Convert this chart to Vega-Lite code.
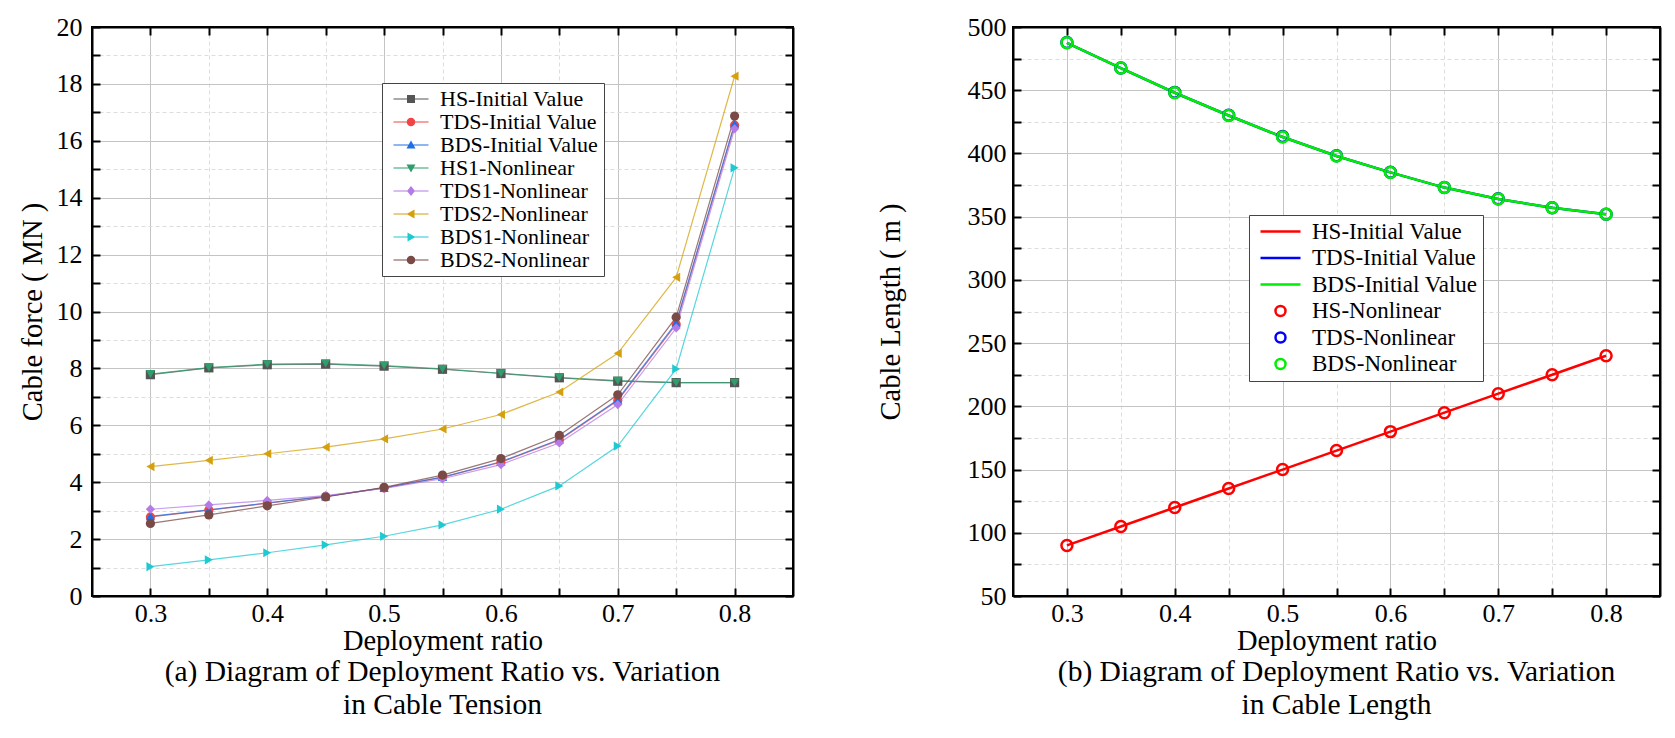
{
  "$schema": "https://vega.github.io/schema/vega-lite/v6.json",
  "background": "white",
  "padding": {"left": 17, "top": 13, "right": 5, "bottom": 5},
  "spacing": 80,
  "resolve": {"scale": {"color": "independent", "shape": "independent", "stroke": "independent", "fill": "independent"}},
  "config": {
    "font": "Liberation Serif",
    "view": {"stroke": "black", "strokeWidth": 2},
    "axis": {
      "domainColor": "black",
      "domainWidth": 2,
      "tickColor": "black",
      "tickWidth": 2,
      "tickSize": -8,
      "labelFont": "Liberation Serif",
      "labelFontSize": 26,
      "labelColor": "black",
      "labelOverlap": false,
      "labelFlush": false,
      "titleFont": "Liberation Serif",
      "titleFontSize": 28.5,
      "titleFontWeight": "normal",
      "titleColor": "black"
    },
    "legend": {
      "labelFont": "Liberation Serif",
      "labelColor": "black",
      "labelLimit": 400,
      "fillColor": "white",
      "strokeColor": "#444444",
      "orient": "none",
      "symbolSize": 100,
      "symbolOpacity": 1
    },
    "title": {"font": "Liberation Serif", "fontSize": 29.5, "fontWeight": "normal", "color": "black"}
  },
  "datasets": {
    "tension": [
      {"r": 0.3, "s": "HS-Initial Value", "v": 7.78}, {"r": 0.35, "s": "HS-Initial Value", "v": 8.02}, {"r": 0.4, "s": "HS-Initial Value", "v": 8.13}, {"r": 0.45, "s": "HS-Initial Value", "v": 8.15}, {"r": 0.5, "s": "HS-Initial Value", "v": 8.08}, {"r": 0.55, "s": "HS-Initial Value", "v": 7.97}, {"r": 0.6, "s": "HS-Initial Value", "v": 7.82}, {"r": 0.65, "s": "HS-Initial Value", "v": 7.67}, {"r": 0.7, "s": "HS-Initial Value", "v": 7.55}, {"r": 0.75, "s": "HS-Initial Value", "v": 7.5}, {"r": 0.8, "s": "HS-Initial Value", "v": 7.5},
      {"r": 0.3, "s": "TDS-Initial Value", "v": 2.78}, {"r": 0.35, "s": "TDS-Initial Value", "v": 3.02}, {"r": 0.4, "s": "TDS-Initial Value", "v": 3.26}, {"r": 0.45, "s": "TDS-Initial Value", "v": 3.5}, {"r": 0.5, "s": "TDS-Initial Value", "v": 3.8}, {"r": 0.55, "s": "TDS-Initial Value", "v": 4.17}, {"r": 0.6, "s": "TDS-Initial Value", "v": 4.7}, {"r": 0.65, "s": "TDS-Initial Value", "v": 5.48}, {"r": 0.7, "s": "TDS-Initial Value", "v": 6.87}, {"r": 0.75, "s": "TDS-Initial Value", "v": 9.55}, {"r": 0.8, "s": "TDS-Initial Value", "v": 16.55},
      {"r": 0.3, "s": "BDS-Initial Value", "v": 2.8}, {"r": 0.35, "s": "BDS-Initial Value", "v": 3.03}, {"r": 0.4, "s": "BDS-Initial Value", "v": 3.27}, {"r": 0.45, "s": "BDS-Initial Value", "v": 3.5}, {"r": 0.5, "s": "BDS-Initial Value", "v": 3.8}, {"r": 0.55, "s": "BDS-Initial Value", "v": 4.18}, {"r": 0.6, "s": "BDS-Initial Value", "v": 4.72}, {"r": 0.65, "s": "BDS-Initial Value", "v": 5.5}, {"r": 0.7, "s": "BDS-Initial Value", "v": 6.9}, {"r": 0.75, "s": "BDS-Initial Value", "v": 9.6}, {"r": 0.8, "s": "BDS-Initial Value", "v": 16.6},
      {"r": 0.3, "s": "HS1-Nonlinear", "v": 7.8}, {"r": 0.35, "s": "HS1-Nonlinear", "v": 8.03}, {"r": 0.4, "s": "HS1-Nonlinear", "v": 8.15}, {"r": 0.45, "s": "HS1-Nonlinear", "v": 8.17}, {"r": 0.5, "s": "HS1-Nonlinear", "v": 8.1}, {"r": 0.55, "s": "HS1-Nonlinear", "v": 7.98}, {"r": 0.6, "s": "HS1-Nonlinear", "v": 7.83}, {"r": 0.65, "s": "HS1-Nonlinear", "v": 7.68}, {"r": 0.7, "s": "HS1-Nonlinear", "v": 7.57}, {"r": 0.75, "s": "HS1-Nonlinear", "v": 7.5}, {"r": 0.8, "s": "HS1-Nonlinear", "v": 7.5},
      {"r": 0.3, "s": "TDS1-Nonlinear", "v": 3.05}, {"r": 0.35, "s": "TDS1-Nonlinear", "v": 3.2}, {"r": 0.4, "s": "TDS1-Nonlinear", "v": 3.36}, {"r": 0.45, "s": "TDS1-Nonlinear", "v": 3.53}, {"r": 0.5, "s": "TDS1-Nonlinear", "v": 3.78}, {"r": 0.55, "s": "TDS1-Nonlinear", "v": 4.12}, {"r": 0.6, "s": "TDS1-Nonlinear", "v": 4.62}, {"r": 0.65, "s": "TDS1-Nonlinear", "v": 5.38}, {"r": 0.7, "s": "TDS1-Nonlinear", "v": 6.73}, {"r": 0.75, "s": "TDS1-Nonlinear", "v": 9.42}, {"r": 0.8, "s": "TDS1-Nonlinear", "v": 16.42},
      {"r": 0.3, "s": "TDS2-Nonlinear", "v": 4.55}, {"r": 0.35, "s": "TDS2-Nonlinear", "v": 4.77}, {"r": 0.4, "s": "TDS2-Nonlinear", "v": 5.0}, {"r": 0.45, "s": "TDS2-Nonlinear", "v": 5.23}, {"r": 0.5, "s": "TDS2-Nonlinear", "v": 5.52}, {"r": 0.55, "s": "TDS2-Nonlinear", "v": 5.87}, {"r": 0.6, "s": "TDS2-Nonlinear", "v": 6.38}, {"r": 0.65, "s": "TDS2-Nonlinear", "v": 7.17}, {"r": 0.7, "s": "TDS2-Nonlinear", "v": 8.53}, {"r": 0.75, "s": "TDS2-Nonlinear", "v": 11.2}, {"r": 0.8, "s": "TDS2-Nonlinear", "v": 18.27},
      {"r": 0.3, "s": "BDS1-Nonlinear", "v": 1.03}, {"r": 0.35, "s": "BDS1-Nonlinear", "v": 1.27}, {"r": 0.4, "s": "BDS1-Nonlinear", "v": 1.52}, {"r": 0.45, "s": "BDS1-Nonlinear", "v": 1.8}, {"r": 0.5, "s": "BDS1-Nonlinear", "v": 2.1}, {"r": 0.55, "s": "BDS1-Nonlinear", "v": 2.5}, {"r": 0.6, "s": "BDS1-Nonlinear", "v": 3.05}, {"r": 0.65, "s": "BDS1-Nonlinear", "v": 3.87}, {"r": 0.7, "s": "BDS1-Nonlinear", "v": 5.27}, {"r": 0.75, "s": "BDS1-Nonlinear", "v": 7.98}, {"r": 0.8, "s": "BDS1-Nonlinear", "v": 15.05},
      {"r": 0.3, "s": "BDS2-Nonlinear", "v": 2.55}, {"r": 0.35, "s": "BDS2-Nonlinear", "v": 2.85}, {"r": 0.4, "s": "BDS2-Nonlinear", "v": 3.17}, {"r": 0.45, "s": "BDS2-Nonlinear", "v": 3.48}, {"r": 0.5, "s": "BDS2-Nonlinear", "v": 3.82}, {"r": 0.55, "s": "BDS2-Nonlinear", "v": 4.25}, {"r": 0.6, "s": "BDS2-Nonlinear", "v": 4.83}, {"r": 0.65, "s": "BDS2-Nonlinear", "v": 5.65}, {"r": 0.7, "s": "BDS2-Nonlinear", "v": 7.07}, {"r": 0.75, "s": "BDS2-Nonlinear", "v": 9.8}, {"r": 0.8, "s": "BDS2-Nonlinear", "v": 16.87}
    ],
    "length": [
      {"r": 0.3, "s": "HS-Initial Value", "v": 90}, {"r": 0.35, "s": "HS-Initial Value", "v": 105}, {"r": 0.4, "s": "HS-Initial Value", "v": 120}, {"r": 0.45, "s": "HS-Initial Value", "v": 135}, {"r": 0.5, "s": "HS-Initial Value", "v": 150}, {"r": 0.55, "s": "HS-Initial Value", "v": 165}, {"r": 0.6, "s": "HS-Initial Value", "v": 180}, {"r": 0.65, "s": "HS-Initial Value", "v": 195}, {"r": 0.7, "s": "HS-Initial Value", "v": 210}, {"r": 0.75, "s": "HS-Initial Value", "v": 225}, {"r": 0.8, "s": "HS-Initial Value", "v": 240},
      {"r": 0.3, "s": "TDS-Initial Value", "v": 487.5}, {"r": 0.35, "s": "TDS-Initial Value", "v": 467.5}, {"r": 0.4, "s": "TDS-Initial Value", "v": 448}, {"r": 0.45, "s": "TDS-Initial Value", "v": 430}, {"r": 0.5, "s": "TDS-Initial Value", "v": 413}, {"r": 0.55, "s": "TDS-Initial Value", "v": 398}, {"r": 0.6, "s": "TDS-Initial Value", "v": 385}, {"r": 0.65, "s": "TDS-Initial Value", "v": 373}, {"r": 0.7, "s": "TDS-Initial Value", "v": 364}, {"r": 0.75, "s": "TDS-Initial Value", "v": 357}, {"r": 0.8, "s": "TDS-Initial Value", "v": 352},
      {"r": 0.3, "s": "BDS-Initial Value", "v": 487.5}, {"r": 0.35, "s": "BDS-Initial Value", "v": 467.5}, {"r": 0.4, "s": "BDS-Initial Value", "v": 448}, {"r": 0.45, "s": "BDS-Initial Value", "v": 430}, {"r": 0.5, "s": "BDS-Initial Value", "v": 413}, {"r": 0.55, "s": "BDS-Initial Value", "v": 398}, {"r": 0.6, "s": "BDS-Initial Value", "v": 385}, {"r": 0.65, "s": "BDS-Initial Value", "v": 373}, {"r": 0.7, "s": "BDS-Initial Value", "v": 364}, {"r": 0.75, "s": "BDS-Initial Value", "v": 357}, {"r": 0.8, "s": "BDS-Initial Value", "v": 352},
      {"r": 0.3, "s": "HS-Nonlinear", "v": 90}, {"r": 0.35, "s": "HS-Nonlinear", "v": 105}, {"r": 0.4, "s": "HS-Nonlinear", "v": 120}, {"r": 0.45, "s": "HS-Nonlinear", "v": 135}, {"r": 0.5, "s": "HS-Nonlinear", "v": 150}, {"r": 0.55, "s": "HS-Nonlinear", "v": 165}, {"r": 0.6, "s": "HS-Nonlinear", "v": 180}, {"r": 0.65, "s": "HS-Nonlinear", "v": 195}, {"r": 0.7, "s": "HS-Nonlinear", "v": 210}, {"r": 0.75, "s": "HS-Nonlinear", "v": 225}, {"r": 0.8, "s": "HS-Nonlinear", "v": 240},
      {"r": 0.3, "s": "TDS-Nonlinear", "v": 487.8}, {"r": 0.35, "s": "TDS-Nonlinear", "v": 467.6}, {"r": 0.4, "s": "TDS-Nonlinear", "v": 448.3}, {"r": 0.45, "s": "TDS-Nonlinear", "v": 430.2}, {"r": 0.5, "s": "TDS-Nonlinear", "v": 413.4}, {"r": 0.55, "s": "TDS-Nonlinear", "v": 398.2}, {"r": 0.6, "s": "TDS-Nonlinear", "v": 385.2}, {"r": 0.65, "s": "TDS-Nonlinear", "v": 373.1}, {"r": 0.7, "s": "TDS-Nonlinear", "v": 364.1}, {"r": 0.75, "s": "TDS-Nonlinear", "v": 357}, {"r": 0.8, "s": "TDS-Nonlinear", "v": 352},
      {"r": 0.3, "s": "BDS-Nonlinear", "v": 487.5}, {"r": 0.35, "s": "BDS-Nonlinear", "v": 467.5}, {"r": 0.4, "s": "BDS-Nonlinear", "v": 448}, {"r": 0.45, "s": "BDS-Nonlinear", "v": 430}, {"r": 0.5, "s": "BDS-Nonlinear", "v": 413}, {"r": 0.55, "s": "BDS-Nonlinear", "v": 398}, {"r": 0.6, "s": "BDS-Nonlinear", "v": 385}, {"r": 0.65, "s": "BDS-Nonlinear", "v": 373}, {"r": 0.7, "s": "BDS-Nonlinear", "v": 364}, {"r": 0.75, "s": "BDS-Nonlinear", "v": 357}, {"r": 0.8, "s": "BDS-Nonlinear", "v": 352}
    ]
  },
  "hconcat": [
    {
      "width": 701,
      "height": 569,
      "data": {"name": "tension"},
      "title": {"text": ["(a) Diagram of Deployment Ratio vs. Variation", "in Cable Tension"], "orient": "bottom", "anchor": "middle", "frame": "group", "lineHeight": 33, "offset": 3},
      "resolve": {"axis": {"x": "independent", "y": "independent"}, "scale": {"shape": "independent", "color": "independent"}},
      "layer": [
        {
          "mark": {"type": "line", "strokeWidth": 1.2, "opacity": 0.75},
          "encoding": {
            "x": {"field": "r", "type": "quantitative", "scale": {"domain": [0.25, 0.85], "nice": false, "zero": false},
              "axis": {"orient": "bottom", "values": [0.3, 0.35, 0.4, 0.45, 0.5, 0.55, 0.6, 0.65, 0.7, 0.75, 0.8], "labelExpr": "round(datum.value * 100) % 10 == 0 ? format(datum.value, '.1f') : ''", "labelPadding": 12, "title": "Deployment ratio", "titlePadding": 0, "grid": true,
                "gridColor": {"condition": {"test": "round(datum.value * 100) % 10 == 0", "value": "#c4c4c4"}, "value": "#dddddd"},
                "gridDash": {"condition": {"test": "round(datum.value * 100) % 10 == 0", "value": []}, "value": [4, 3]}}},
            "y": {"field": "v", "type": "quantitative", "scale": {"domain": [0, 20], "nice": false},
              "axis": {"orient": "left", "values": [0, 1, 2, 3, 4, 5, 6, 7, 8, 9, 10, 11, 12, 13, 14, 15, 16, 17, 18, 19, 20], "labelExpr": "datum.value % 2 == 0 ? datum.label : ''", "labelPadding": 18, "title": "Cable force ( MN )", "titlePadding": 9, "grid": true,
                "gridColor": {"condition": {"test": "datum.value % 2 == 0", "value": "#c4c4c4"}, "value": "#dddddd"},
                "gridDash": {"condition": {"test": "datum.value % 2 == 0", "value": []}, "value": [4, 3]}}},
            "stroke": {"field": "s", "type": "nominal", "legend": null,
              "scale": {"domain": ["HS-Initial Value", "TDS-Initial Value", "BDS-Initial Value", "HS1-Nonlinear", "TDS1-Nonlinear", "TDS2-Nonlinear", "BDS1-Nonlinear", "BDS2-Nonlinear"],
                "range": ["#555555", "#f24444", "#1f6fe5", "#2f9e6c", "#b47be6", "#d4a00c", "#1ec9d2", "#7a4a47"]}}
          }
        },
        {
          "mark": {"type": "point", "filled": true, "opacity": 1, "size": 85},
          "encoding": {
            "x": {"field": "r", "type": "quantitative", "scale": {"domain": [0.25, 0.85], "nice": false, "zero": false},
              "axis": {"orient": "top", "values": [0.3, 0.35, 0.4, 0.45, 0.5, 0.55, 0.6, 0.65, 0.7, 0.75, 0.8], "labels": false, "grid": false, "title": null}},
            "y": {"field": "v", "type": "quantitative", "scale": {"domain": [0, 20], "nice": false},
              "axis": {"orient": "right", "values": [0, 1, 2, 3, 4, 5, 6, 7, 8, 9, 10, 11, 12, 13, 14, 15, 16, 17, 18, 19, 20], "labels": false, "grid": false, "title": null}},
            "fill": {"field": "s", "type": "nominal", "legend": null,
              "scale": {"domain": ["HS-Initial Value", "TDS-Initial Value", "BDS-Initial Value", "HS1-Nonlinear", "TDS1-Nonlinear", "TDS2-Nonlinear", "BDS1-Nonlinear", "BDS2-Nonlinear"],
                "range": ["#555555", "#f24444", "#1f6fe5", "#2f9e6c", "#b47be6", "#d4a00c", "#1ec9d2", "#7a4a47"]}},
            "shape": {"field": "s", "type": "nominal", "legend": null,
              "scale": {"domain": ["HS-Initial Value", "TDS-Initial Value", "BDS-Initial Value", "HS1-Nonlinear", "TDS1-Nonlinear", "TDS2-Nonlinear", "BDS1-Nonlinear", "BDS2-Nonlinear"],
                "range": ["square", "circle", "triangle-up", "triangle-down", "diamond", "triangle-left", "triangle-right", "circle"]}}
          }
        },
        {
          "transform": [{"filter": "datum.r > 5"}],
          "mark": {"type": "point", "filled": true, "opacity": 1},
          "encoding": {
            "color": {"field": "s", "type": "nominal",
              "legend": {"title": null, "legendX": 290, "legendY": 56, "padding": 5, "symbolOffset": 13, "labelOffset": 18, "rowPadding": 1, "labelFontSize": 22, "symbolStrokeWidth": 0},
              "scale": {"domain": ["HS-Initial Value", "TDS-Initial Value", "BDS-Initial Value", "HS1-Nonlinear", "TDS1-Nonlinear", "TDS2-Nonlinear", "BDS1-Nonlinear", "BDS2-Nonlinear"],
                "range": ["#555555", "#f24444", "#1f6fe5", "#2f9e6c", "#b47be6", "#d4a00c", "#1ec9d2", "#7a4a47"]}},
            "shape": {"field": "s", "type": "nominal",
              "legend": {"title": null, "legendX": 290, "legendY": 56, "padding": 5, "symbolOffset": 13, "labelOffset": 18, "rowPadding": 1, "labelFontSize": 22, "symbolStrokeWidth": 0},
              "scale": {"domain": ["HS-Initial Value", "TDS-Initial Value", "BDS-Initial Value", "HS1-Nonlinear", "TDS1-Nonlinear", "TDS2-Nonlinear", "BDS1-Nonlinear", "BDS2-Nonlinear"],
                "range": ["M-3.5,-0.12H3.5V0.12H-3.5Z M-0.8,-0.8H0.8V0.8H-0.8Z", "M-3.5,-0.12H3.5V0.12H-3.5Z M0.85,0A0.85,0.85 0 1,1 -0.85,0A0.85,0.85 0 1,1 0.85,0Z", "M-3.5,-0.12H3.5V0.12H-3.5Z M0,-0.9L0.9,0.7H-0.9Z", "M-3.5,-0.12H3.5V0.12H-3.5Z M0,0.9L-0.9,-0.7H0.9Z", "M-3.5,-0.12H3.5V0.12H-3.5Z M0,-1L0.8,0L0,1L-0.8,0Z", "M-3.5,-0.12H3.5V0.12H-3.5Z M-0.9,0L0.7,-0.9V0.9Z", "M-3.5,-0.12H3.5V0.12H-3.5Z M0.9,0L-0.7,0.9V-0.9Z", "M-3.5,-0.12H3.5V0.12H-3.5Z M0.85,0A0.85,0.85 0 1,1 -0.85,0A0.85,0.85 0 1,1 0.85,0Z"]}}
          }
        }
      ]
    },
    {
      "width": 647,
      "height": 569,
      "data": {"name": "length"},
      "title": {"text": ["(b) Diagram of Deployment Ratio vs. Variation", "in Cable Length"], "orient": "bottom", "anchor": "middle", "frame": "group", "lineHeight": 33, "offset": 3},
      "resolve": {"axis": {"x": "independent", "y": "independent"}},
      "layer": [
        {
          "transform": [{"filter": "indexof(datum.s, 'Initial') >= 0"}],
          "mark": {"type": "line", "strokeWidth": 2.5},
          "encoding": {
            "x": {"field": "r", "type": "quantitative", "scale": {"domain": [0.25, 0.85], "nice": false, "zero": false},
              "axis": {"orient": "bottom", "values": [0.3, 0.35, 0.4, 0.45, 0.5, 0.55, 0.6, 0.65, 0.7, 0.75, 0.8], "labelExpr": "round(datum.value * 100) % 10 == 0 ? format(datum.value, '.1f') : ''", "labelPadding": 12, "title": "Deployment ratio", "titlePadding": 0, "grid": true,
                "gridColor": {"condition": {"test": "round(datum.value * 100) % 10 == 0", "value": "#c4c4c4"}, "value": "#dddddd"},
                "gridDash": {"condition": {"test": "round(datum.value * 100) % 10 == 0", "value": []}, "value": [4, 3]}}},
            "y": {"field": "v", "type": "quantitative", "scale": {"domain": [50, 500], "nice": false, "zero": false},
              "axis": {"orient": "left", "values": [50, 75, 100, 125, 150, 175, 200, 225, 250, 275, 300, 325, 350, 375, 400, 425, 450, 475, 500], "labelExpr": "datum.value % 50 == 0 ? datum.label : ''", "labelPadding": 15, "title": "Cable Length ( m )", "titlePadding": 62, "grid": true,
                "gridColor": {"condition": {"test": "datum.value % 50 == 0", "value": "#c4c4c4"}, "value": "#dddddd"},
                "gridDash": {"condition": {"test": "datum.value % 50 == 0", "value": []}, "value": [4, 3]}}},
            "stroke": {"field": "s", "type": "nominal", "legend": null,
              "scale": {"domain": ["HS-Initial Value", "TDS-Initial Value", "BDS-Initial Value"], "range": ["#ff0000", "#0000ff", "#00ee00"]}}
          }
        },
        {
          "transform": [{"filter": "indexof(datum.s, 'Nonlinear') >= 0"}],
          "mark": {"type": "point", "filled": false, "opacity": 1, "strokeWidth": 2.5, "size": 120},
          "encoding": {
            "x": {"field": "r", "type": "quantitative", "scale": {"domain": [0.25, 0.85], "nice": false, "zero": false},
              "axis": {"orient": "top", "values": [0.3, 0.35, 0.4, 0.45, 0.5, 0.55, 0.6, 0.65, 0.7, 0.75, 0.8], "labels": false, "grid": false, "title": null}},
            "y": {"field": "v", "type": "quantitative", "scale": {"domain": [50, 500], "nice": false, "zero": false},
              "axis": {"orient": "right", "values": [50, 75, 100, 125, 150, 175, 200, 225, 250, 275, 300, 325, 350, 375, 400, 425, 450, 475, 500], "labels": false, "grid": false, "title": null}},
            "color": {"field": "s", "type": "nominal",
              "legend": {"title": null, "legendX": 236, "legendY": 188, "padding": 5, "symbolOffset": 15, "labelOffset": 20, "rowPadding": 2.5, "labelFontSize": 23, "symbolStrokeWidth": 2.5},
              "scale": {"domain": ["HS-Initial Value", "TDS-Initial Value", "BDS-Initial Value", "HS-Nonlinear", "TDS-Nonlinear", "BDS-Nonlinear"],
                "range": ["#ff0000", "#0000ff", "#00ee00", "#ff0000", "#0000ff", "#00ee00"]}},
            "shape": {"field": "s", "type": "nominal",
              "legend": {"title": null, "legendX": 236, "legendY": 188, "padding": 5, "symbolOffset": 15, "labelOffset": 20, "rowPadding": 2.5, "labelFontSize": 23, "symbolStrokeWidth": 2.5},
              "scale": {"domain": ["HS-Initial Value", "TDS-Initial Value", "BDS-Initial Value", "HS-Nonlinear", "TDS-Nonlinear", "BDS-Nonlinear"],
                "range": ["M-4,0H4", "M-4,0H4", "M-4,0H4", "circle", "circle", "circle"]}}
          }
        }
      ]
    }
  ]
}
